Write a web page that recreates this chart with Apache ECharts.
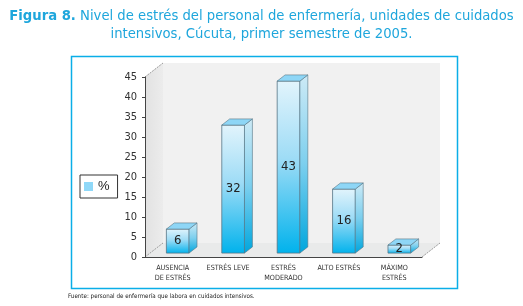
<!DOCTYPE html>
<html>
<head>
<meta charset="utf-8">
<script src="https://cdn.jsdelivr.net/npm/echarts@6/dist/echarts.min.js"></script>
<style>
  html, body { margin: 0; padding: 0; background: #fff; }
  #chart { width: 523px; height: 306px; }
</style>
</head>
<body>
<div id="chart"></div>
<script>
var categories = ['AUSENCIA\nDE ESTRÉS', 'ESTRÉS LEVE', 'ESTRÉS\nMODERADO', 'ALTO ESTRÉS', 'MÁXIMO\nESTRÉS'];
var values = [6, 32, 43, 16, 2];
var yTicks = [0, 5, 10, 15, 20, 25, 30, 35, 40, 45];

var DX = 18, DY = -14;   // depth of the 3d box
var narrow = '"Liberation Sans Narrow", "DejaVu Sans Condensed", "Liberation Sans", sans-serif';

function renderWalls(params, api) {
    var cs = params.coordSys;
    var L = cs.x, T = cs.y, R = cs.x + cs.width, B = cs.y + cs.height;
    var dash = { stroke: '#9a9a9a', lineWidth: 1, lineDash: [2, 1] };
    return {
        type: 'group',
        children: [
            { type: 'polygon', shape: { points: [[L + DX, T + DY], [R + DX, T + DY], [R + DX, B + DY], [L + DX, B + DY]] },
              style: { fill: '#f1f1f1' } },
            { type: 'polygon', shape: { points: [[L, T], [L + DX, T + DY], [L + DX, B + DY], [L, B]] },
              style: { fill: new echarts.graphic.LinearGradient(0, 0, 1, 0, [
                  { offset: 0, color: '#e2e2e2' }, { offset: 1, color: '#ececec' }]) } },
            { type: 'polygon', shape: { points: [[L, B], [R, B], [R + DX, B + DY], [L + DX, B + DY]] },
              style: { fill: '#e9eaea' } },
            { type: 'line', shape: { x1: L, y1: T, x2: L + DX, y2: T + DY }, style: dash },
            { type: 'line', shape: { x1: L, y1: B, x2: L + DX, y2: B + DY }, style: dash },
            { type: 'line', shape: { x1: R, y1: B, x2: R + DX, y2: B + DY }, style: dash }
        ]
    };
}

function renderBar(params, api) {
    var i = api.value(0), v = api.value(1);
    var top = api.coord([i, v]);
    var base = api.coord([i, 0]);
    var band = api.size([1, 0])[0];
    var w = band * 0.41;
    var fx = 0.28, bx = 0.72;
    var x0 = base[0] - w / 2 + DX * fx, x1 = x0 + w;
    var yb = base[1] + DY * fx, yt = top[1] + DY * fx;
    var ox = DX * (bx - fx), oy = DY * (bx - fx);
    var edge = '#557585';
    return {
        type: 'group',
        children: [
            { type: 'polygon', shape: { points: [[x0, yt], [x1, yt], [x1, yb], [x0, yb]] },
              style: { fill: new echarts.graphic.LinearGradient(0, 0, 0, 1, [
                  { offset: 0, color: '#e2f4fc' }, { offset: 0.45, color: '#9edcf6' }, { offset: 1, color: '#00b2ec' }]),
                  stroke: edge, lineWidth: 0.8 },
              textContent: { style: { text: String(values[i]), font: '13px ' + narrow, fill: '#222' } },
              textConfig: { position: 'inside' } },
            { type: 'polygon', shape: { points: [[x1, yt], [x1 + ox, yt + oy], [x1 + ox, yb + oy], [x1, yb]] },
              style: { fill: new echarts.graphic.LinearGradient(0, 0, 0, 1, [
                  { offset: 0, color: '#cdeaf6' }, { offset: 0.5, color: '#7ccfee' }, { offset: 1, color: '#00a6dd' }]),
                  stroke: edge, lineWidth: 0.6 } },
            { type: 'polygon', shape: { points: [[x0, yt], [x1, yt], [x1 + ox, yt + oy], [x0 + ox, yt + oy]] },
              style: { fill: '#8ed6f6', stroke: edge, lineWidth: 0.6 } }
        ]
    };
}

var chart = echarts.init(document.getElementById('chart'));
chart.setOption({
    animation: false,
    title: {
        text: '{b|Figura 8.} Nivel de estrés del personal de enfermería, unidades de cuidados\nintensivos, Cúcuta, primer semestre de 2005.',
        left: 'center',
        top: 3,
        textStyle: {
            color: '#1ea6dc', fontSize: 13.2, fontWeight: 'normal', fontFamily: '"DejaVu Sans", sans-serif', lineHeight: 18,
            rich: { b: { color: '#1ea6dc', fontSize: 13.2, fontWeight: 'bold', fontFamily: '"DejaVu Sans", sans-serif', lineHeight: 18 } }
        }
    },
    legend: {
        data: ['%'],
        left: 80, top: 175,
        orient: 'vertical',
        padding: [5, 8, 5, 4],
        borderColor: '#333', borderWidth: 1,
        itemWidth: 9, itemHeight: 9,
        icon: 'rect',
        textStyle: { fontSize: 13, color: '#222', fontFamily: '"Liberation Sans", sans-serif' }
    },
    graphic: [
        { type: 'rect', left: 69, top: 54, shape: { width: 386, height: 232 },
          style: { fill: 'none', stroke: '#0aaee8', lineWidth: 1.5 }, z: 0 },
        { type: 'text', left: 68, top: 293,
          style: { text: 'Fuente: personal de enfermería que labora en cuidados intensivos.', font: '6.2px ' + narrow, fill: '#222' } }
    ],
    grid: { left: 145, right: 101, top: 77, bottom: 49 },
    xAxis: {
        type: 'category',
        data: categories,
        z: 5,
        axisLine: { lineStyle: { color: '#444', width: 1 } },
        axisTick: { length: 4, lineStyle: { color: '#444' } },
        axisLabel: { fontSize: 7.2, lineHeight: 10, color: '#333', fontFamily: narrow, margin: 6, interval: 0 }
    },
    yAxis: {
        type: 'value',
        min: yTicks[0], max: yTicks[yTicks.length - 1], interval: 5,
        z: 5,
        axisLine: { show: true, lineStyle: { color: '#444', width: 1 } },
        axisTick: { show: true, length: 3, lineStyle: { color: '#444' } },
        splitLine: { show: false },
        axisLabel: { fontSize: 11, color: '#333', fontFamily: narrow, margin: 8 }
    },
    series: [
        { type: 'custom', renderItem: renderWalls, data: [[0, 0]], z: 1, silent: true },
        {
            name: '%',
            type: 'custom',
            renderItem: renderBar,
            itemStyle: { color: '#8fd8f8' },
            data: values.map(function (v, i) { return [i, v]; }),
            encode: { x: 0, y: 1 },
            z: 3
        }
    ]
});
</script>
</body>
</html>
